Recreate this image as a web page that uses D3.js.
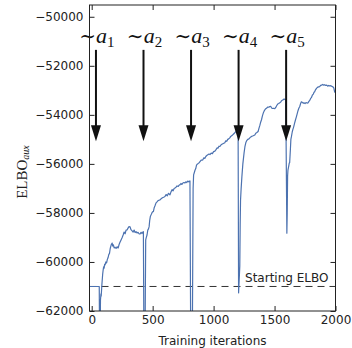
<!DOCTYPE html>
<html>
<head>
<meta charset="utf-8">
<script src="https://cdn.jsdelivr.net/npm/d3@7"></script>
<style>
  body { margin: 0; background: #fff; }
  svg { display: block; }
</style>
</head>
<body>
<div id="chart"></div>
<script>
// training curve (iteration, ELBO_aux)
const iters = [
  -18, 62, 64, 70, 72, 76, 78, 84, 90, 94, 98, 102, 106, 110, 116, 122, 128, 134, 140, 146,
  152, 160, 168, 172, 178, 184, 192, 200, 208, 217, 224, 232, 241, 250, 258, 266, 274, 282, 291, 298,
  306, 315, 322, 330, 340, 348, 356, 364, 372, 380, 390, 397, 405, 412, 420, 424,
  428, 438,
  443, 448, 454, 460, 466, 471, 476, 481, 487, 494, 500, 506, 512, 520, 528, 536, 544, 552, 561, 570,
  580, 590, 601, 610, 620, 630, 642, 650, 660, 668, 676, 683, 692, 700, 710, 718, 724, 732, 740, 748,
  756, 765, 772, 780, 788, 795, 800, 806,
  812, 826,
  832, 836, 842, 848, 853, 860, 868, 874, 882, 890, 898, 906, 912, 920, 928, 936, 944, 953, 962, 970,
  980, 990, 1000, 1011, 1020, 1028, 1036, 1044, 1052, 1060, 1068, 1076, 1084, 1092, 1100, 1108, 1116, 1124, 1133, 1140,
  1148, 1156, 1164, 1174, 1182, 1190, 1197, 1201,
  1205, 1212, 1215, 1218, 1221, 1226, 1232, 1240, 1250, 1257, 1264, 1272, 1280, 1290, 1297, 1305, 1315, 1325, 1338, 1346,
  1355, 1365, 1372, 1380, 1386, 1393, 1400, 1408, 1414, 1420, 1428, 1436, 1445, 1453, 1461, 1468, 1476, 1484, 1492, 1502,
  1510, 1518, 1526, 1534, 1543, 1550, 1558, 1564, 1570, 1578, 1585, 1592,
  1598, 1601, 1604, 1607, 1610, 1616, 1621, 1624, 1630, 1634, 1638, 1645, 1650, 1657, 1664, 1672, 1679, 1686, 1693, 1700,
  1706, 1713, 1720, 1727, 1734, 1741, 1750, 1758, 1766, 1774, 1782, 1790, 1796, 1802, 1810, 1818, 1824, 1829, 1836, 1844,
  1852, 1860, 1870, 1878, 1886, 1895, 1904, 1911, 1920, 1928, 1936, 1944, 1952, 1960, 1968, 1979, 1986, 1993, 2000
]
const elbo = [
  -61000, -61000, -62600, -62600, -61550, -61300, -61390, -60900, -60500, -60330, -60200, -60250, -60100, -60120, -60000, -60040, -59900, -59830, -59700, -59650,
  -59450, -59300, -59230, -59350, -59300, -59430, -59400, -59450, -59380, -59430, -59300, -59200, -59100, -59000, -58900, -58780, -58850, -58700, -58690, -58620,
  -58560, -58570, -58680, -58720, -58780, -58700, -58800, -58760, -58820, -58790, -58860, -58860, -58790, -58840, -58780, -58760,
  -62800, -62800,
  -59100, -59000, -58900, -58700, -58650, -58560, -58300, -58150, -58080, -58000, -57950, -57950, -57800, -57700, -57590, -57550, -57500, -57480, -57470, -57420,
  -57380, -57360, -57330, -57250, -57300, -57200, -57260, -57150, -57050, -57100, -57000, -56980, -56950, -56900, -56920, -56860, -56860, -56800, -56840, -56780,
  -56760, -56780, -56730, -56760, -56700, -56730, -56720, -56690,
  -62800, -62800,
  -57000, -56450, -56350, -56250, -56200, -56050, -56000, -55980, -55950, -55900, -55850, -55850, -55830, -55750, -55780, -55700, -55660, -55630, -55600, -55620,
  -55560, -55580, -55500, -55480, -55420, -55350, -55360, -55280, -55290, -55230, -55200, -55180, -55160, -55140, -55060, -55080, -55000, -54980, -54940, -54880,
  -54850, -54820, -54780, -54730, -54680, -54620, -54580, -54560,
  -61260, -60500, -60160, -58500, -57470, -57000, -56530, -56000, -55550, -55300, -55140, -55050, -55000, -54980, -54940, -54900, -54870, -54850, -54820, -54750,
  -54720, -54680, -54550, -54420, -54300, -54200, -54050, -53920, -53850, -53800, -53750, -53720, -53680, -53690, -53660, -53650, -53720, -53740, -53730, -53750,
  -53700, -53620, -53560, -53540, -53510, -53480, -53420, -53400, -53390, -53350, -53370, -53390,
  -57000, -58830, -58000, -56500, -56250, -56100, -55960, -55950, -55400, -55000, -54900, -54700, -54600, -54490, -54350, -54200, -54080, -53950, -53820, -53720,
  -53670, -53550, -53470, -53490, -53520, -53510, -53540, -53500, -53520, -53510, -53450, -53400, -53330, -53300, -53200, -53150, -53080, -53060, -52980, -52920,
  -52880, -52860, -52850, -52800, -52790, -52760, -52790, -52770, -52800, -52790, -52830, -52800, -52820, -52810, -52830, -52860, -52900, -53060, -53100
]

const startingElbo = -61000
const arrowIters = [35, 425, 815, 1205, 1595]
const arrowLabels = ['1', '2', '3', '4', '5']
const arrowTop = -51350
const arrowTip = -55080
const labelY = -51050

const xTicks = [0, 500, 1000, 1500, 2000]
const yTicks = [-62000, -60000, -58000, -56000, -54000, -52000, -50000]

const W = 352
const H = 348
const plot = { left: 89.5, right: 335.5, top: 5, bottom: 311 }

const svg = d3
  .select('#chart')
  .append('svg')
  .attr('width', W)
  .attr('height', H)

const x = d3.scaleLinear().domain([-18, 2000]).range([plot.left, plot.right])
const y = d3.scaleLinear().domain([-62000, -49520]).range([plot.bottom, plot.top])

svg
  .append('clipPath')
  .attr('id', 'clip')
  .append('rect')
  .attr('x', plot.left)
  .attr('y', plot.top)
  .attr('width', plot.right - plot.left)
  .attr('height', plot.bottom - plot.top)

// starting ELBO reference line
svg
  .append('line')
  .attr('x1', plot.left)
  .attr('x2', plot.right)
  .attr('y1', y(startingElbo))
  .attr('y2', y(startingElbo))
  .attr('stroke', '#333')
  .attr('stroke-width', 1)
  .attr('stroke-dasharray', '7,5')

svg
  .append('text')
  .attr('x', x(1258))
  .attr('y', y(startingElbo) - 4)
  .attr('font-family', 'DejaVu Sans')
  .attr('font-size', 12)
  .attr('fill', '#222')
  .text('Starting ELBO')

// the curve
const points = iters.map((d, i) => [d, elbo[i]])
const line = d3
  .line()
  .x(d => x(d[0]))
  .y(d => y(d[1]))

svg
  .append('path')
  .datum(points)
  .attr('clip-path', 'url(#clip)')
  .attr('d', line)
  .attr('fill', 'none')
  .attr('stroke', '#4C72B0')
  .attr('stroke-width', 1.2)
  .attr('stroke-linejoin', 'round')

// arrows
const arrows = svg
  .selectAll('.arrow')
  .data(arrowIters)
  .enter()
  .append('g')
  .attr('class', 'arrow')

arrows
  .append('line')
  .attr('x1', d => x(d))
  .attr('x2', d => x(d))
  .attr('y1', y(arrowTop))
  .attr('y2', y(arrowTip) - 8)
  .attr('stroke', '#111')
  .attr('stroke-width', 2)

arrows
  .append('path')
  .attr('d', d => {
    const cx = x(d)
    const ty = y(arrowTip)
    return `M${cx},${ty} L${cx - 5},${ty - 16} L${cx + 5},${ty - 16} Z`
  })
  .attr('fill', '#111')

const labels = svg
  .selectAll('.alabel')
  .data(arrowLabels)
  .enter()
  .append('text')
  .attr('class', 'alabel')
  .attr('x', (d, i) => x(arrowIters[i]) + 1)
  .attr('y', y(labelY))
  .attr('text-anchor', 'middle')
  .attr('font-family', 'Liberation Serif')
  .attr('font-size', 22)
  .attr('fill', '#111')

labels.append('tspan').attr('font-family', 'DejaVu Serif').attr('font-size', 20).text('\u223C')
labels.append('tspan').attr('font-style', 'italic').text('a')
labels
  .append('tspan')
  .attr('font-size', 15)
  .attr('dy', 4)
  .text(d => d)

// axes, ticks pointing inward on all four sides
const fmt = d3.format('d')

const yLeft = d3.axisLeft(y).tickValues(yTicks).tickFormat(fmt).tickSizeInner(-5).tickSizeOuter(0).tickPadding(6)
const yRight = d3.axisRight(y).tickValues(yTicks).tickFormat('').tickSizeInner(-5).tickSizeOuter(0)
const xBottom = d3.axisBottom(x).tickValues(xTicks).tickFormat(fmt).tickSizeInner(-5).tickSizeOuter(0).tickPadding(4)
const xTop = d3.axisTop(x).tickValues(xTicks).tickFormat('').tickSizeInner(-5).tickSizeOuter(0)

svg.append('g').attr('class', 'axis').attr('transform', `translate(${plot.left},0)`).call(yLeft)
svg.append('g').attr('class', 'axis').attr('transform', `translate(${plot.right},0)`).call(yRight)
svg.append('g').attr('class', 'axis').attr('transform', `translate(0,${plot.bottom})`).call(xBottom)
svg.append('g').attr('class', 'axis').attr('transform', `translate(0,${plot.top})`).call(xTop)

svg.selectAll('.axis .domain').remove()
svg
  .selectAll('.axis text')
  .attr('font-family', 'DejaVu Sans')
  .attr('font-size', 12)
  .attr('fill', '#222')
svg.selectAll('.axis line').attr('stroke', '#222')

svg
  .append('rect')
  .attr('x', plot.left)
  .attr('y', plot.top)
  .attr('width', plot.right - plot.left)
  .attr('height', plot.bottom - plot.top)
  .attr('fill', 'none')
  .attr('stroke', '#222')
  .attr('stroke-width', 1)

// axis labels
svg
  .append('text')
  .attr('x', (plot.left + plot.right) / 2)
  .attr('y', 345)
  .attr('text-anchor', 'middle')
  .attr('font-family', 'DejaVu Sans')
  .attr('font-size', 12)
  .attr('fill', '#222')
  .text('Training iterations')

const ylab = svg
  .append('text')
  .attr('transform', 'translate(27,172) rotate(-90)')
  .attr('text-anchor', 'middle')
  .attr('font-family', 'Liberation Serif')
  .attr('font-size', 15)
  .attr('fill', '#222')

ylab.append('tspan').text('ELBO')
ylab.append('tspan').attr('font-style', 'italic').attr('font-size', 10).attr('dy', 2).text('aux')
</script>
</body>
</html>
